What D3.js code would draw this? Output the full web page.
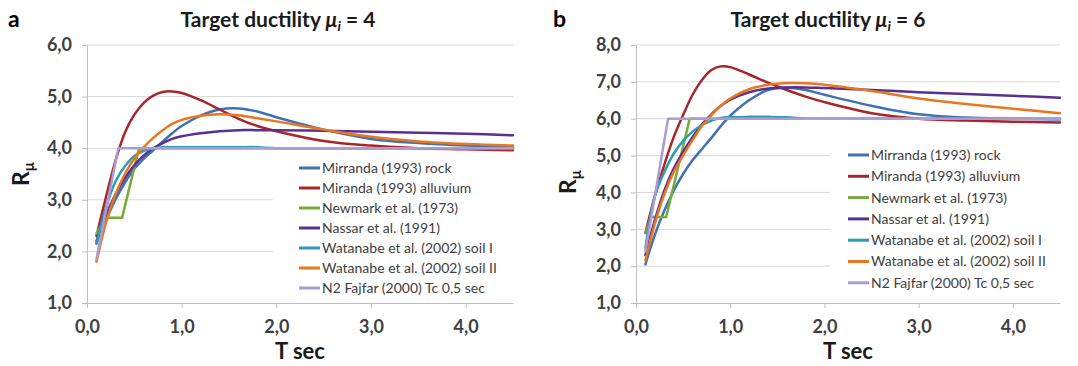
<!DOCTYPE html>
<html><head><meta charset="utf-8">
<script src="https://cdn.jsdelivr.net/npm/d3@7"></script>
<style>
body{margin:0;background:#fff}
svg{display:block}
text{font-family:Lato,"Open Sans",sans-serif}
</style>
</head><body>
<svg id="c" width="1078" height="366"></svg>
<script>
// ---------------- DATA ----------------
const seriesNames = [
  "Mirranda (1993) rock",
  "Miranda (1993) alluvium",
  "Newmark et al. (1973)",
  "Nassar et al. (1991)",
  "Watanabe et al. (2002) soil I",
  "Watanabe et al. (2002) soil II",
  "N2 Fajfar (2000) Tc 0,5 sec"
];
const periods = [0.1,0.2,0.3,0.4,0.5,0.6,0.7,0.8,0.9,1.0,1.2,1.4,1.6,1.8,2.0,2.5,3.0,3.5,4.0,4.5];

const xTicks = [0,1,2,3,4];
const xTickLabels = ["0,0","1,0","2,0","3,0","4,0"];
const yTicksA = [1,2,3,4,5,6];
const yTickLabelsA = ["1,0","2,0","3,0","4,0","5,0","6,0"];
const yTicksB = [1,2,3,4,5,6,7,8];
const yTickLabelsB = ["1,0","2,0","3,0","4,0","5,0","6,0","7,0","8,0"];

// Panel a : target ductility 4
const rockA       = [2.15,2.6,3.0,3.33,3.6,3.8,3.96,4.13,4.29,4.43,4.63,4.75,4.77,4.71,4.6,4.36,4.18,4.1,4.05,4.02];
const alluviumA   = [2.3,3.05,3.75,4.3,4.65,4.88,5.02,5.09,5.1,5.07,4.93,4.75,4.57,4.43,4.33,4.14,4.05,4.0,3.98,3.96];
const nassarA     = [2.2,2.7,3.1,3.42,3.67,3.86,4.0,4.1,4.18,4.23,4.29,4.33,4.35,4.35,4.35,4.34,4.32,4.3,4.28,4.25];
const watanabeIA  = [2.15,2.85,3.35,3.65,3.85,3.95,4.0,4.02,4.02,4.02,4.02,4.02,4.02,4.02,4.0,4.0,4.0,4.0,4.0,4.0];
const watanabeIIA = [1.8,2.55,3.1,3.5,3.8,4.02,4.2,4.35,4.47,4.55,4.63,4.66,4.64,4.58,4.52,4.36,4.22,4.13,4.08,4.05];
const newmarkTA = [0.1,0.2,0.37,0.55,4.5];
const newmarkRA = [2.35,2.65,2.65,4.0,4.0];
const n2TA = [0.1,0.33,4.5];
const n2RA = [1.85,4.0,4.0];

// Panel b : target ductility 6
const rockB       = [2.05,2.85,3.5,4.05,4.5,4.87,5.18,5.48,5.8,6.08,6.5,6.78,6.84,6.78,6.65,6.35,6.12,6.03,6.0,5.98];
const alluviumB   = [2.9,3.9,4.75,5.5,6.1,6.65,7.05,7.32,7.42,7.4,7.2,6.98,6.78,6.6,6.45,6.15,6.0,5.95,5.92,5.9];
const nassarB     = [2.3,3.25,4.05,4.65,5.1,5.5,5.85,6.12,6.35,6.52,6.72,6.82,6.85,6.85,6.83,6.78,6.72,6.67,6.62,6.57];
const watanabeIB  = [2.5,3.9,4.55,5.05,5.4,5.65,5.83,5.95,6.02,6.04,6.05,6.05,6.04,6.0,6.0,6.0,6.0,6.0,6.0,6.0];
const watanabeIIB = [2.15,3.15,3.95,4.55,5.0,5.42,5.8,6.1,6.35,6.55,6.8,6.92,6.97,6.96,6.92,6.75,6.55,6.4,6.27,6.15];
const newmarkTB = [0.1,0.16,0.32,0.57,4.5];
const newmarkRB = [2.9,3.33,3.33,6.0,6.0];
const n2TB = [0.1,0.34,4.5];
const n2RB = [2.4,6.0,6.0];

// ---------------- STYLE ----------------
const colors = ["#3f71b5","#a8262b","#78aa3a","#5a2f8f","#2f9bb4","#e8771f","#ab9dd3"];
const smooth = [true,true,false,true,true,true,false];

const zip = (xs, ys) => xs.map((x,i)=>[x, ys[i]]);

const panels = [
  {
    letter:"a", mu:"4", x0:87, x1:513, yTicks:yTicksA, yLabels:yTickLabelsA, yMax:6,
    titleX:278, letterX:8, yTitleX:29, yTitleY:174,
    legend:{x:273, y:157, w:240, h:141, sx:299, row0:168, step:20},
    series:[zip(periods,rockA), zip(periods,alluviumA), zip(newmarkTA,newmarkRA), zip(periods,nassarA),
            zip(periods,watanabeIA), zip(periods,watanabeIIA), zip(n2TA,n2RA)]
  },
  {
    letter:"b", mu:"6", x0:636, x1:1060, yTicks:yTicksB, yLabels:yTickLabelsB, yMax:8,
    titleX:828, letterX:553, yTitleX:576, yTitleY:182,
    legend:{x:830, y:140, w:230, h:160, sx:848, row0:155, step:21.3},
    series:[zip(periods,rockB), zip(periods,alluviumB), zip(newmarkTB,newmarkRB), zip(periods,nassarB),
            zip(periods,watanabeIB), zip(periods,watanabeIIB), zip(n2TB,n2RB)]
  }
];

const svg = d3.select("#c");
const yTop = 45, yBot = 303;

panels.forEach(p => {
  const x = d3.scaleLinear().domain([0,4.5]).range([p.x0,p.x1]);
  const y = d3.scaleLinear().domain([1,p.yMax]).range([yBot,yTop]);
  const g = svg.append("g");

  // gridlines
  g.append("g").selectAll("line").data(p.yTicks.filter(d=>d>1)).join("line")
    .attr("x1",p.x0).attr("x2",p.x1).attr("y1",d=>y(d)).attr("y2",d=>y(d))
    .attr("stroke","#d9d9d9").attr("stroke-width",1);

  // axes
  const xa = g.append("g").attr("transform",`translate(0,${yBot})`)
    .call(d3.axisBottom(x).tickValues(xTicks).tickFormat((d,i)=>xTickLabels[i]).tickSize(5).tickSizeOuter(0).tickPadding(12));
  const ya = g.append("g").attr("transform",`translate(${p.x0},0)`)
    .call(d3.axisLeft(y).tickValues(p.yTicks).tickFormat((d,i)=>p.yLabels[i]).tickSize(5).tickSizeOuter(0).tickPadding(10));
  [xa,ya].forEach(a=>{
    a.select(".domain").attr("stroke","#bfbfbf");
    a.selectAll(".tick line").attr("stroke","#bfbfbf");
    a.selectAll(".tick text").attr("fill","#404040").style("font-size","18px").style("font-weight","700")
      .style("font-family","Lato, 'Open Sans', sans-serif");
  });

  // curves
  p.series.forEach((data,i)=>{
    const line = d3.line().x(d=>x(d[0])).y(d=>y(d[1]))
      .curve(smooth[i] ? d3.curveCatmullRom.alpha(0.5) : d3.curveLinear);
    g.append("path").datum(data).attr("d",line)
      .attr("fill","none").attr("stroke",colors[i]).attr("stroke-width",2.5)
      .attr("stroke-linejoin","round").attr("stroke-linecap","round");
  });

  // legend
  const L = p.legend;
  g.append("rect").attr("x",L.x).attr("y",L.y).attr("width",L.w).attr("height",L.h).attr("fill","#fff");
  seriesNames.forEach((name,i)=>{
    const yy = L.row0 + i*L.step;
    g.append("line").attr("x1",L.sx).attr("x2",L.sx+21).attr("y1",yy).attr("y2",yy)
      .attr("stroke",colors[i]).attr("stroke-width",3);
    g.append("text").attr("x",L.sx+23).attr("y",yy).attr("dy","0.35em")
      .attr("fill","#404040").style("font-size","14px").text(name);
  });

  // panel letter
  g.append("text").attr("x",p.letterX).attr("y",27).style("font-size","23px").style("font-weight","700")
    .attr("fill","#000").text(p.letter);

  // title
  const t = g.append("text").attr("x",p.titleX).attr("y",27).attr("text-anchor","middle")
    .style("font-size","21px").style("font-weight","700").attr("fill","#1a1a1a");
  t.append("tspan").text("Target ductility ");
  t.append("tspan").style("font-style","italic").text("μ");
  t.append("tspan").style("font-style","italic").style("font-size","14px").attr("dy",4).text("i");
  t.append("tspan").attr("dy",-4).text(" = " + p.mu);

  // y title
  const yt = g.append("text").attr("transform",`translate(${p.yTitleX},${p.yTitleY}) rotate(-90)`)
    .attr("text-anchor","middle").style("font-size","23px").style("font-weight","700").attr("fill","#1a1a1a");
  yt.append("tspan").text("R");
  yt.append("tspan").style("font-size","15px").attr("dy",5).text("μ");

  // x title
  g.append("text").attr("x",(p.x0+p.x1)/2).attr("y",359).attr("text-anchor","middle")
    .style("font-size","22px").style("font-weight","700").attr("fill","#1a1a1a").text("T sec");
});
</script>
</body></html>
